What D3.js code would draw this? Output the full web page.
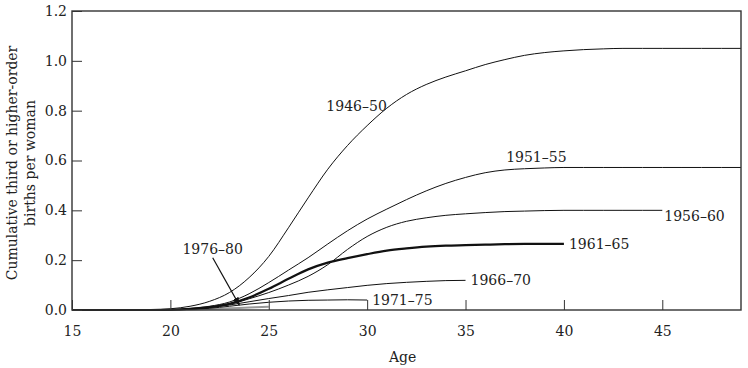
<!DOCTYPE html>
<html>
<head>
<meta charset="utf-8">
<script src="https://cdn.jsdelivr.net/npm/d3@7"></script>
<style>
  body { margin: 0; background: #fff; }
  svg text { font-family: "DejaVu Serif", serif; fill: #222; }
</style>
</head>
<body>
<svg id="chart" width="748" height="368"></svg>
<script>
const ages = d3.range(15, 50);
const c1946 = [0,0,0,0,0.002, 0.005,0.015,0.035,0.07,0.13, 0.215,0.33,0.45,0.565,0.66, 0.74,0.81,0.865,0.905,0.935, 0.96,0.985,1.005,1.022,1.033, 1.04,1.045,1.048,1.05,1.05, 1.05,1.05,1.05,1.05,1.05];
const c1951 = [0,0,0,0,0, 0.002,0.006,0.015,0.032,0.065, 0.11,0.16,0.21,0.265,0.318, 0.365,0.405,0.443,0.478,0.508, 0.532,0.551,0.562,0.567,0.57, 0.572,0.572,0.572,0.572,0.572, 0.572,0.572,0.572,0.572,0.572];
const c1956 = [0,0,0,0,0, 0.001,0.004,0.01,0.022,0.045, 0.07,0.1,0.135,0.182,0.243, 0.295,0.332,0.356,0.37,0.38, 0.386,0.391,0.395,0.397,0.399, 0.4,0.4,0.4,0.4,0.4, 0.4];
const c1961 = [0,0,0,0,0, 0.001,0.005,0.012,0.025,0.05, 0.085,0.125,0.163,0.19,0.208, 0.224,0.238,0.247,0.254,0.258, 0.26,0.262,0.264,0.265,0.265, 0.265];
const c1966 = [0,0,0,0,0, 0.001,0.004,0.01,0.02,0.033, 0.046,0.058,0.071,0.081,0.09, 0.099,0.106,0.111,0.115,0.118, 0.119];
const c1971 = [0,0,0,0,0, 0.001,0.003,0.007,0.015,0.024, 0.031,0.036,0.039,0.04,0.041, 0.04];
const c1976 = [0,0,0,0,0, 0,0.002,0.004,0.007,0.01, 0.013];

const series = [
  {name: "1946–50", values: c1946, width: 1, color: "#111"},
  {name: "1951–55", values: c1951, width: 1, color: "#111"},
  {name: "1956–60", values: c1956, width: 1, color: "#111"},
  {name: "1961–65", values: c1961, width: 2.2, color: "#111"},
  {name: "1966–70", values: c1966, width: 1, color: "#111"},
  {name: "1971–75", values: c1971, width: 1, color: "#111"},
  {name: "1976–80", values: c1976, width: 2, color: "#999"}
];
const xTicks = [15, 20, 25, 30, 35, 40, 45];
const yTicks = [0, 0.2, 0.4, 0.6, 0.8, 1.0, 1.2];

const svg = d3.select("#chart");
const L = 72, R = 741, T = 11, B = 310;
const x = d3.scaleLinear().domain([15, 49]).range([L, R]);
const y = d3.scaleLinear().domain([0, 1.2]).range([B, T]);

const line = d3.line().x(d => x(d[0])).y(d => y(d[1])).curve(d3.curveMonotoneX);
const order = [6, 5, 4, 2, 1, 0, 3];
order.forEach(i => {
  const s = series[i];
  const pts = s.values.map((v, j) => [ages[j], v]);
  svg.append("path").attr("d", line(pts)).attr("fill", "none")
    .attr("stroke", s.color).attr("stroke-width", s.width);
});

// frame
svg.append("rect").attr("x", L).attr("y", T).attr("width", R - L).attr("height", B - T)
  .attr("fill", "none").attr("stroke", "#333").attr("stroke-width", 1.4);

// axes with inward ticks
const xAxis = d3.axisBottom(x).tickValues(xTicks).tickSize(-10).tickPadding(16).tickFormat(d3.format("d"));
const gx = svg.append("g").attr("transform", `translate(0,${B})`).call(xAxis);
gx.select(".domain").remove();
gx.selectAll(".tick line").attr("stroke", "#333");
gx.selectAll(".tick text").attr("font-size", 14).attr("font-family", "DejaVu Serif").attr("fill", "#222");

const yAxis = d3.axisLeft(y).tickValues(yTicks).tickSize(-10).tickPadding(5).tickFormat(d3.format(".1f"));
const gy = svg.append("g").attr("transform", `translate(${L},0)`).call(yAxis);
gy.select(".domain").remove();
gy.selectAll(".tick line").attr("stroke", "#333");
gy.selectAll(".tick text").attr("font-size", 14).attr("font-family", "DejaVu Serif").attr("fill", "#222");

// axis titles
svg.append("text").attr("x", x(31.8)).attr("y", 362).attr("text-anchor", "middle")
  .attr("font-size", 14).text("Age");
const yl = svg.append("text").attr("transform", "translate(12,163) rotate(-90)")
  .attr("text-anchor", "middle").attr("font-size", 14);
yl.append("tspan").attr("x", 0).attr("dy", "0.35em").text("Cumulative third or higher-order");
yl.append("tspan").attr("x", 0).attr("dy", "1.3em").text("births per woman");

// series labels
const lab = (t, px, py, anchor) => svg.append("text").attr("x", px).attr("y", py)
  .attr("text-anchor", anchor).attr("font-size", 14).text(t);
lab("1946–50", x(31.0), y(0.82) + 5, "end");
lab("1951–55", x(38.6), y(0.572) - 5, "middle");
lab("1956–60", x(45) + 2, y(0.4) + 11, "start");
lab("1961–65", x(40) + 5, y(0.265) + 5, "start");
lab("1966–70", x(35) + 5, y(0.119) + 5, "start");
lab("1971–75", x(30) + 5, y(0.04) + 5, "start");
lab("1976–80", x(22.15), y(0.223), "middle");

// arrow for 1976–80
const defs = svg.append("defs");
defs.append("marker").attr("id", "ah").attr("viewBox", "0 0 10 10").attr("refX", 9).attr("refY", 5)
  .attr("markerWidth", 7).attr("markerHeight", 7).attr("orient", "auto")
  .append("path").attr("d", "M0,1 L10,5 L0,9 Z").attr("fill", "#111");
svg.append("line").attr("x1", x(22.15)).attr("y1", y(0.21))
  .attr("x2", x(23.5)).attr("y2", y(0.02))
  .attr("stroke", "#111").attr("stroke-width", 1.2).attr("marker-end", "url(#ah)");
</script>
</body>
</html>
